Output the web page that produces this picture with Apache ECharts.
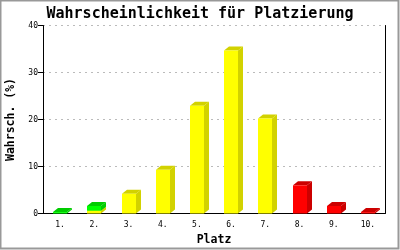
<!DOCTYPE html>
<html><head><meta charset="utf-8">
<script src="https://cdn.jsdelivr.net/npm/echarts@6/dist/echarts.min.js"></script>
<style>html,body{margin:0;padding:0;background:#fff}#c{width:400px;height:250px}</style>
</head><body><div id="c"></div>
<script>
const categories = ['1.', '2.', '3.', '4.', '5.', '6.', '7.', '8.', '9.', '10.'];
const yellowValues = [0, 0.6, 4.2, 9.3, 22.9, 34.7, 20.2, 0, 0, 0];
const greenValues = [0.3, 1.0, 0, 0, 0, 0, 0, 0, 0, 0];
const redValues = [0, 0, 0, 0, 0, 0, 0, 6.0, 1.6, 0.3];
const yTicks = [0, 10, 20, 30, 40];

const stackOrder = [
  {name: 'gelb', vals: yellowValues, front: '#ffff00', side: '#d2d200'},
  {name: 'grün', vals: greenValues, front: '#00ff00', side: '#00cc00'},
  {name: 'rot', vals: redValues, front: '#ff0000', side: '#cc0000'}
];
const base = categories.map(() => 0);
const series = stackOrder.map(s => {
  const data = s.vals.map((v, i) => { const b = base[i]; base[i] += v; return [i, b, b + v]; });
  return {
    type: 'custom', name: s.name, encode: {x: 0, y: [1, 2]}, data: data,
    renderItem: function (params, api) {
      const i = api.value(0), b = api.value(1), t = api.value(2);
      if (t - b <= 0) return null;
      const p0 = api.coord([i, b]), p1 = api.coord([i, t]);
      const w = 14, dx = 5, dy = 4;
      const x0 = Math.round(p0[0] - w / 2);
      const yb = p0[1], yt = p1[1];
      return {type: 'group', children: [
        {type: 'polygon', shape: {points: [[x0 + w, yt], [x0 + w + dx, yt - dy], [x0 + w + dx, yb - dy], [x0 + w, yb]]}, style: {fill: s.side}},
        {type: 'polygon', shape: {points: [[x0, yt], [x0 + dx, yt - dy], [x0 + w + dx, yt - dy], [x0 + w, yt]]}, style: {fill: s.side}},
        {type: 'rect', shape: {x: x0, y: yt, width: w, height: yb - yt}, style: {fill: s.front}}
      ]};
    }
  };
});

const chart = echarts.init(document.getElementById('c'), null, {renderer: 'canvas'});
const mono = 'DejaVu Sans Mono';
chart.setOption({
  animation: false,
  backgroundColor: '#fff',
  title: {text: 'Wahrscheinlichkeit für Platzierung', left: 'center', top: 2,
    textStyle: {fontFamily: mono, fontWeight: 'bold', fontSize: 15, color: '#000'}},
  grid: {left: 43, right: 15, top: 25.5, bottom: 36.5, containLabel: false, outerBoundsMode: 'none'},
  xAxis: {type: 'category', data: categories, name: 'Platz', nameLocation: 'middle', nameGap: 21,
    nameTextStyle: {fontFamily: mono, fontWeight: 'bold', fontSize: 11.5, color: '#000'},
    axisLine: {lineStyle: {color: '#000', width: 1}}, axisTick: {show: false},
    axisLabel: {fontFamily: mono, fontSize: 8, color: '#000', margin: 7}},
  yAxis: [{type: 'value', min: yTicks[0], max: yTicks[yTicks.length - 1], interval: 10,
    name: 'Wahrsch. (%)', nameLocation: 'middle', nameGap: 26, nameRotate: 90,
    nameTextStyle: {fontFamily: mono, fontWeight: 'bold', fontSize: 11.5, color: '#000'},
    axisLine: {show: true, lineStyle: {color: '#000', width: 1}},
    axisTick: {show: true, length: 5, lineStyle: {color: '#000'}},
    axisLabel: {fontFamily: mono, fontSize: 8, color: '#000', margin: 5},
    splitLine: {show: true, lineStyle: {color: '#bbbbbb', type: [2, 4]}}},
   {type: 'value', min: 0, max: 40, interval: 10, position: 'right',
    axisLine: {show: true, lineStyle: {color: '#000', width: 1}}, axisTick: {show: false},
    axisLabel: {show: false}, splitLine: {show: false}}],
  graphic: [{type: 'rect', shape: {x: 0.5, y: 0.5, width: 398, height: 248}, style: {fill: null, stroke: '#999', lineWidth: 2}, silent: true}],
  series: series
});
</script></body></html>
